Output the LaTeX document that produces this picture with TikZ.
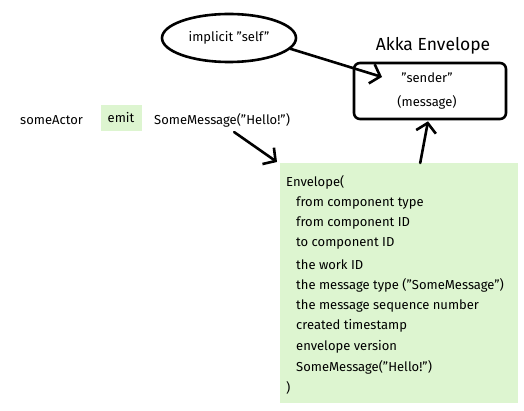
\documentclass[tikz,border=0pt]{standalone}
\usepackage{fontspec}
\setmainfont{Fira Sans}
\usetikzlibrary{shapes.geometric,arrows.meta,positioning}
\definecolor{envgreen}{RGB}{221,245,208}
\begin{document}
\begin{tikzpicture}[x=1pt,y=-1pt,font=\fontsize{13}{15}\selectfont,line join=round,line cap=round,
	sketch/.style={line width=2.6pt},
	pointer/.style={sketch,-{Straight Barb[length=9pt,width=20pt,line width=2.6pt]}},
	txt/.style={inner sep=0pt,anchor=west}]
				\useasboundingbox (0,0) rectangle (524,411);
				% implicit sender and the akka envelope
				\node[ellipse,draw,sketch,minimum width=134pt,minimum height=48pt] (self) at (229,38) {implicit "self"};
				\node[font=\fontsize{17.5}{20}\selectfont] (akka) at (433,46) {Akka Envelope};
				\node[draw,sketch,rounded corners=6pt,minimum width=152pt,minimum height=56pt] (rbox) at (430,91) {};
				\node (sender) at (427,78) {"sender"};
				\node (payload) at (427,102) {(message)};
				\coordinate (hit) at (382,77);
				\draw[pointer] (self.-10) -- (hit);
				
				% the call
				\node[txt] (actor) at (20,120) {someActor};
				\node[fill=envgreen,minimum width=41pt,minimum height=26pt] (emit) at (121,118) {emit};
				\node[txt] (msg) at (154,120) {SomeMessage("Hello!")};
				
				% the envelope
				\node[fill=envgreen,anchor=north west,minimum width=238pt,minimum height=240pt,inner sep=0pt] (envelope) at (280,163) {};
				\node[txt] (l0) at (286,182) {Envelope(};
				\node[txt] (l1) at (296,202.6) {from component type};
				\node[txt] (l2) at (296,223.2) {from component ID};
				\node[txt] (l3) at (296,243.8) {to component ID};
				\node[txt] (l4) at (296,264.4) {the work ID};
				\node[txt] (l5) at (296,285) {the message type ("SomeMessage")};
				\node[txt] (l6) at (296,305.6) {the message sequence number};
				\node[txt] (l7) at (296,326.2) {created timestamp};
				\node[txt] (l8) at (296,346.8) {envelope version};
				\node[txt] (l9) at (296,367.4) {SomeMessage("Hello!")};
				\node[txt] (l10) at (286,388) {)};
				
				\draw[pointer] ([xshift=-56pt,yshift=-5pt]msg.south east) -- ([xshift=-3pt,yshift=1pt]envelope.north west);
				\draw[pointer] ([xshift=21pt]envelope.north) -- ([xshift=-2pt,yshift=-1pt]rbox.south);
\end{tikzpicture}
\end{document}
